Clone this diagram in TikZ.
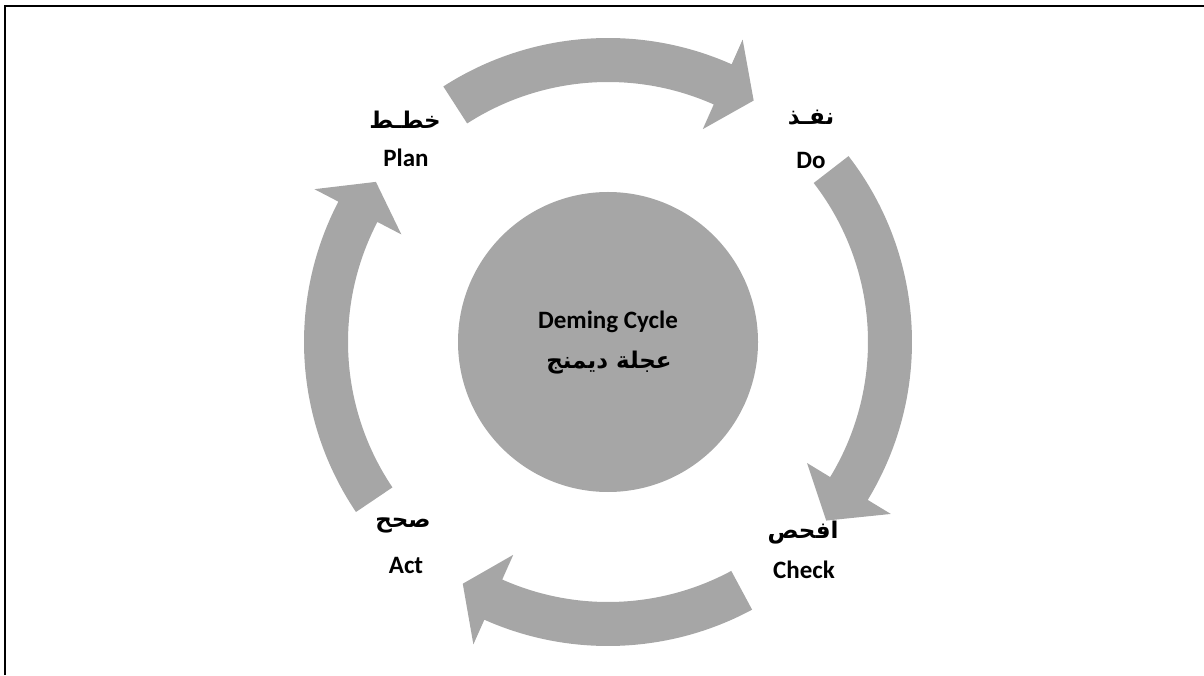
\documentclass[tikz,border=0pt]{standalone}
\usepackage{fontspec}
\setmainfont{Carlito}
\newfontfamily\arabicfont[Script=Arabic]{DejaVu Sans}
\TeXXeTstate=1
\usetikzlibrary{calc}
\definecolor{ringgray}{HTML}{A6A6A6}
\tikzset{
  cyclearrow/.style={fill=ringgray},
  entxt/.style={font=\fontsize{25}{30}\selectfont\bfseries, inner sep=0pt},
  artxt/.style={font=\arabicfont\bfseries\fontsize{23}{27}\selectfont, inner sep=0pt},
  hubdisc/.style={circle, fill=ringgray, minimum size=300pt, inner sep=0pt},
}
% curved block arrow on the ring around the hub: tail, neck and tip angles
\newcommand{\ringarrow}[3]{%
  \fill[cyclearrow] (#1:304) arc[start angle=#1, end angle=#2, radius=304]
    -- (#2:331) -- (#3:282) -- (#2:233) -- (#2:260)
    arc[start angle=#2, end angle=#1, radius=260] -- cycle;}

\begin{document}
\begin{tikzpicture}[x=1pt,y=1pt]
\useasboundingbox (0,0) rectangle (1204,675);
% frame
\draw[line width=2pt] (5,0) -- (5,668.5) -- (1204,668.5);

% hub
\node[hubdisc] (hub) at (608,333) {};
\node[entxt] (deming) at (608,353) {Deming Cycle};
\node[artxt] (demingar) at (609,312) {\beginR عجلة ديمنج\endR};

% arrows of the cycle
\begin{scope}[shift={(608,333)}]
  \ringarrow{214}{152.5}{145.4}
  \ringarrow{122.8}{66}{58.9}
  \ringarrow{37.7}{-31.3}{-39.3}
  \ringarrow{-61.7}{-114}{-121}
\end{scope}

% stage labels
\node[artxt] (planar) at (405,555) {\beginR خطـط\endR};
\node[entxt] (plan) at (406,517) {Plan};
\node[artxt] (doar) at (811,557) {\beginR نفـذ\endR};
\node[entxt] (do) at (811,515) {Do};
\node[artxt] (checkar) at (803,142) {\beginR افحص\endR};
\node[entxt] (check) at (804,105) {Check};
\node[artxt] (actar) at (403,150) {\beginR صحح\endR};
\node[entxt] (act) at (406,110) {Act};
\end{tikzpicture}
\end{document}
